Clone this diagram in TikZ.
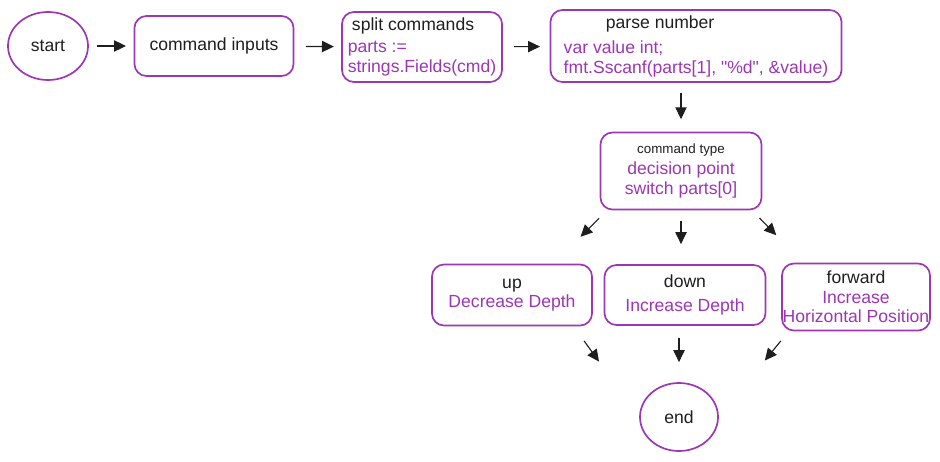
\documentclass[tikz,border=0pt]{standalone}
\usepackage{fontspec}
\setmainfont{Liberation Sans}
\usetikzlibrary{arrows.meta,
                shapes.geometric}
\definecolor{grape}{HTML}{9C36B5}
\definecolor{ink}{HTML}{1E1E1E}
\newcommand\pur{\color{grape}}

\begin{document}
\begin{tikzpicture}[x=0.025cm,y=-0.025cm,
   every node/.style={font=\fontsize{12.5}{14}\selectfont,text=ink},
   box/.style={draw=grape,line width=1.2pt,rounded corners=0.3cm,inner sep=0pt},
   oval/.style={draw=grape,line width=1.2pt,ellipse,inner sep=0pt,
                minimum width=1.95cm,minimum height=1.7cm},
   arr/.style={ink,line width=0.8pt,-{Triangle[length=8.5pt,width=8pt]}}]
 \useasboundingbox (0,0) rectangle (940,461);
 \node[oval,minimum width=2cm] (start) at (48,46) {start};
 \node[box,minimum width=3.975cm,minimum height=1.5cm] (inputs) at (214,46) {command inputs};
 \node[box,minimum width=4cm,minimum height=1.75cm,align=left] (split) at (422,47)
   {\hspace*{3pt}split commands\\[2pt] \pur parts :=\\ \pur strings.Fields(cmd)};
 \node[box,minimum width=7.275cm,minimum height=1.8cm,align=left] (parse) at (696,46)
   {\hspace*{30pt}parse number\\[4pt] \pur var value int;\\ \pur fmt.Sscanf(parts[1], \textquotedbl\%d\textquotedbl, \&value)};
 \node[box,minimum width=4.025cm,minimum height=1.925cm,align=center] (ctype) at (681,171)
   {\fontsize{9.5}{14}\selectfont command type\\[1pt] \pur decision point\\ \pur switch parts[0]};
 \node[box,minimum width=4cm,minimum height=1.525cm,align=center] (up) at (512,295)
   {up\\ \pur Decrease Depth};
 \node[box,minimum width=4.025cm,minimum height=1.5cm,align=center] (down) at (685,295)
   {down\\[3pt] \pur Increase Depth};
 \node[box,minimum width=3.7cm,minimum height=1.675cm,align=center] (fwd) at (856,297)
   {forward\\ \pur Increase\\ \pur Horizontal Position};
 \node[oval] (stop) at (679,417) {end};

 \draw[arr,shorten <=0.2cm,shorten >=0.19cm] (start) -- (inputs);
 \draw[arr,shorten <=0.29cm,shorten >=0.18cm] (inputs) -- (split);
 \draw[arr,shorten <=0.28cm,shorten >=0.24cm] (split) -- (parse);
 \draw[arr,shorten <=0.25cm,shorten >=0.31cm] (parse.south -| ctype.north) -- (ctype.north);
 \draw[arr,shorten <=0.28cm,shorten >=0.95cm] (ctype.208) -- (up.37);
 \draw[arr,shorten <=0.26cm,shorten >=0.5cm] (ctype.south) -- (ctype.south |- down.north);
 \draw[arr,shorten <=0.27cm,shorten >=0.96cm] (ctype.331) -- (fwd.147);
 \draw[arr,shorten <=0.45cm,shorten >=1.71cm] (up.333) -- (stop.west);
 \draw[arr,shorten <=0.3cm,shorten >=0.5cm] (down.south -| stop.north) -- (stop.north);
 \draw[arr,shorten <=0.31cm,shorten >=1.82cm] (fwd.207) -- (stop.east);
\end{tikzpicture}
\end{document}
